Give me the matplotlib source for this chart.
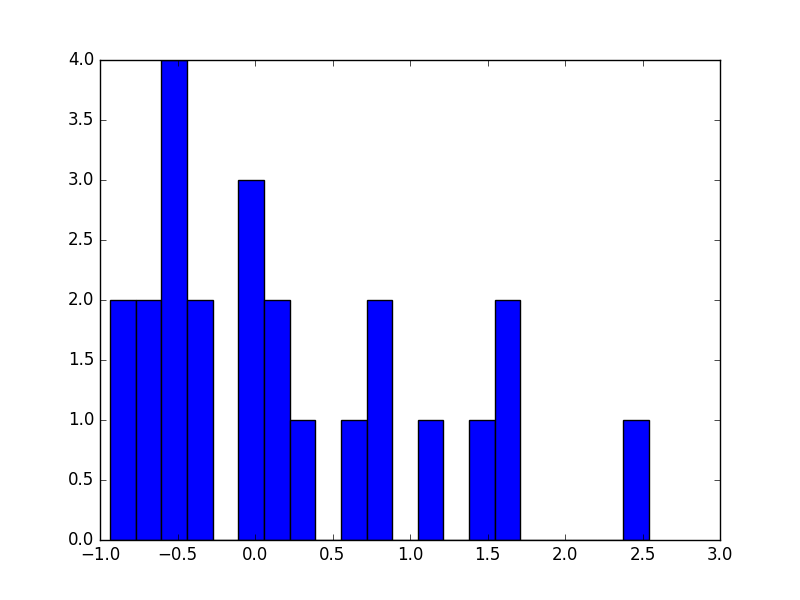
import numpy as np
import matplotlib
matplotlib.use('Agg')
import matplotlib.pyplot as plt

plt.style.use('classic')

# Data: histogram counts per bin (21 equal bins)
counts = np.array([2, 2, 4, 2, 0, 3, 2, 1, 0, 1, 2, 0, 1, 0, 1, 2, 0, 0, 0, 0, 1])
bin_lo, bin_hi = -0.9355, 2.540

edges = np.linspace(bin_lo, bin_hi, len(counts) + 1)

fig = plt.figure(figsize=(8, 6))
ax = fig.add_subplot(111)
ax.hist(edges[:-1], bins=edges, weights=counts, color='blue', edgecolor='black')
ax.set_xlim(-1.0, 3.0)
ax.set_ylim(0, 4.0)

fig.savefig('out.png', dpi=100)
